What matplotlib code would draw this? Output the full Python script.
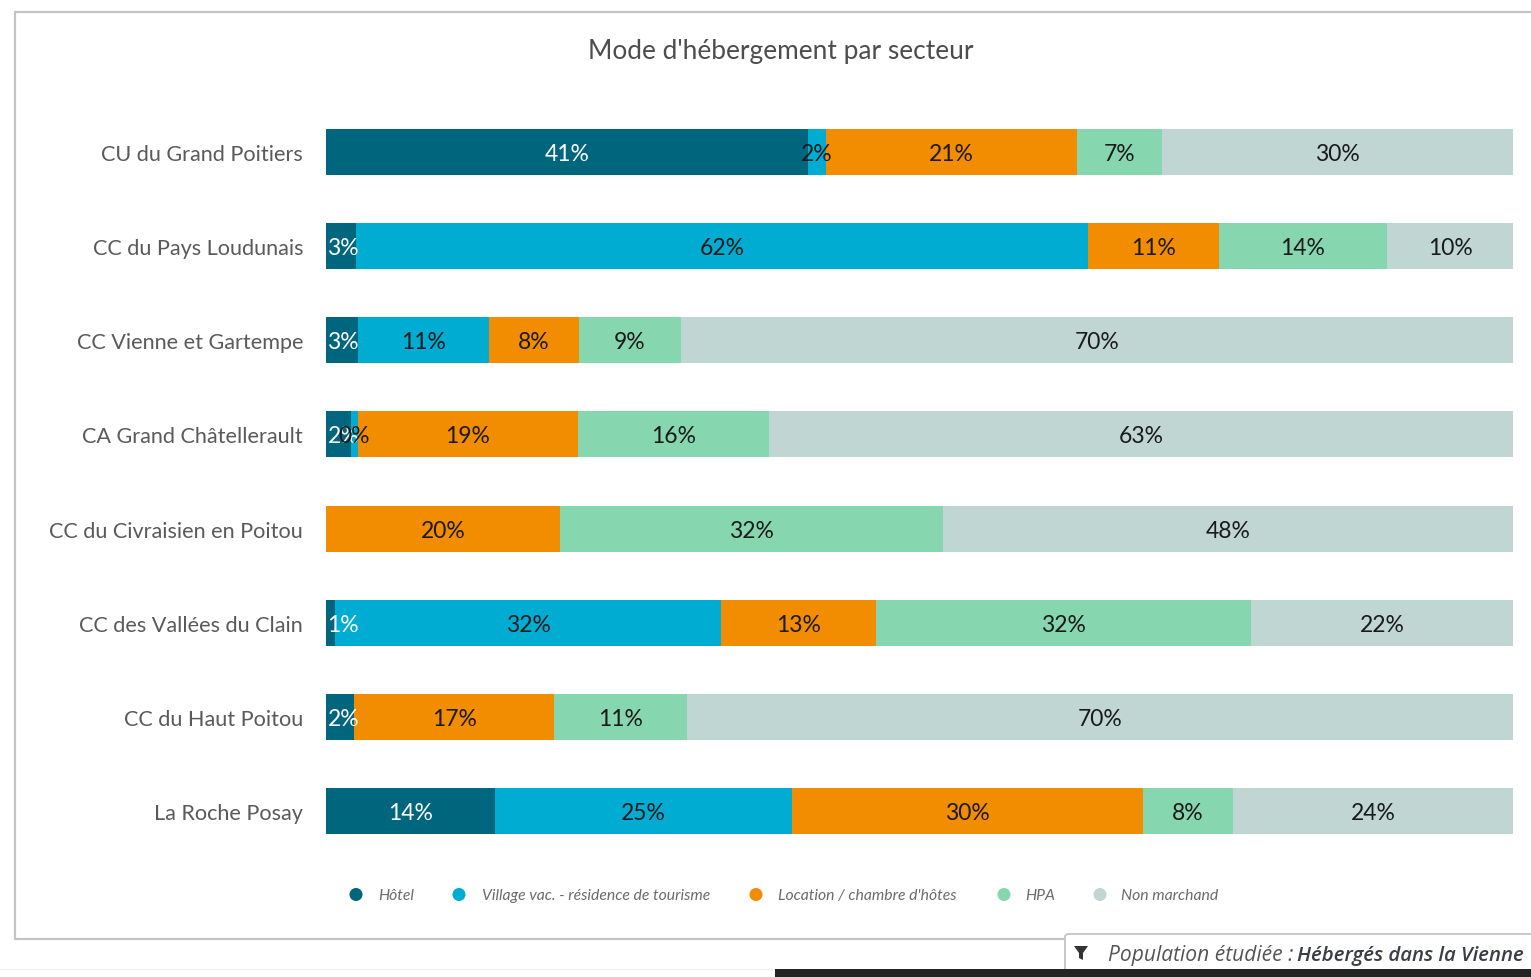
import matplotlib
matplotlib.use("Agg")
import matplotlib.pyplot as plt
from matplotlib.patches import Rectangle, Polygon, FancyBboxPatch

W, H = 1531, 978

sectors = ["CU du Grand Poitiers", "CC du Pays Loudunais", "CC Vienne et Gartempe",
           "CA Grand Châtellerault", "CC du Civraisien en Poitou", "CC des Vallées du Clain",
           "CC du Haut Poitou", "La Roche Posay"]

hotel = [40.6, 2.5, 2.7, 2.1, 0, 0.8, 2.4, 14.2]
village = [1.5, 61.7, 11.0, 0.6, 0, 32.5, 0, 25.1]
location = [21.2, 11.0, 7.6, 18.5, 19.7, 13.0, 16.8, 29.5]
hpa = [7.1, 14.2, 8.6, 16.1, 32.3, 31.6, 11.2, 7.6]
non_marchand = [29.6, 10.6, 70.1, 62.7, 48.0, 22.1, 69.6, 23.6]

# what the labels say (rounded in the source, they don't always add to 100)
hotel_lab = ["41%", "3%", "3%", "2%", "", "1%", "2%", "14%"]
village_lab = ["2%", "62%", "11%", "0%", "", "32%", "", "25%"]
location_lab = ["21%", "11%", "8%", "19%", "20%", "13%", "17%", "30%"]
hpa_lab = ["7%", "14%", "9%", "16%", "32%", "32%", "11%", "8%"]
non_marchand_lab = ["30%", "10%", "70%", "63%", "48%", "22%", "70%", "24%"]

series = [hotel, village, location, hpa, non_marchand]
series_lab = [hotel_lab, village_lab, location_lab, hpa_lab, non_marchand_lab]
names = ["Hôtel", "Village vac. - résidence de tourisme", "Location / chambre d'hôtes", "HPA", "Non marchand"]
colors = ["#00667d", "#00acd1", "#f28c00", "#86d7b0", "#c0d6d3"]
lab_colors = ["white", "#1a1a1a", "#1a1a1a", "#1a1a1a", "#1a1a1a"]

# legend positions, px
leg_dot_x = [356, 459, 756, 1004, 1100]
leg_txt_x = [378, 482, 778, 1025, 1121]

plt.rcParams["font.family"] = "Lato"
fig = plt.figure(figsize=(W / 100, H / 100), dpi=100, facecolor="white")

# background layer in pixel coords for the frame, title, legend, filter tag
bg = fig.add_axes([0, 0, 1, 1])
bg.set_xlim(0, W)
bg.set_ylim(H, 0)
bg.axis("off")

bg.add_patch(Rectangle((14.5, 12.5), W, 927, fc="white", ec="#c4c4c4", lw=1.6))
bg.plot([0, 775], [970, 970], color="#f0f0f0", lw=1)
bg.add_patch(Rectangle((775, 970), W - 775, 8, fc="#242424", ec="none", zorder=3))
bg.text(781, 51, "Mode d'hébergement par secteur", ha="center", va="center", fontsize=18.9, color="#4d4d4d")

bg.scatter(leg_dot_x, [895.5] * 5, s=88, c=colors, linewidths=0)
for x, name in zip(leg_txt_x, names):
    bg.text(x, 896, name, ha="left", va="center", fontsize=11.3, style="italic", color="#6b6b6b")

bg.add_patch(FancyBboxPatch((1068, 938), W, 40, boxstyle="round,pad=3,rounding_size=3",
                            fc="white", ec="#c8c8c8", lw=1.4, zorder=2))
bg.add_patch(Rectangle((1066, 970.5), W, 8, fc="#242424", ec="none", zorder=3))
bg.add_patch(Polygon([(1074, 947), (1088, 947), (1083, 954), (1083, 961), (1079, 959), (1079, 954)],
                     fc="#333333", ec="none", zorder=4))
bg.text(1108, 955.5, "Population étudiée :", ha="left", va="center", fontsize=15.1, style="italic",
        family="Open Sans", color="#555555", zorder=4)
bg.text(1524, 955.5, "Hébergés dans la Vienne", ha="right", va="center", fontsize=14.7, style="italic",
        weight="semibold", family="Open Sans", color="#3a3d42", zorder=4)

# bars, 0-100 spans 326 to 1513 px
ax = fig.add_axes([326 / W, 1 - 859 / H, 1187 / W, 753 / H])
ax.patch.set_alpha(0)
ypos = list(range(len(sectors)))
left = [0] * len(sectors)
for vals, labs, c, lc in zip(series, series_lab, colors, lab_colors):
    bars = ax.barh(ypos, vals, left=left, height=0.49, color=c, linewidth=0)
    for b, lab in zip(bars, labs):
        if lab:
            # narrow first segments: the label is pushed back inside the bar
            xc = max(b.get_x() + b.get_width() / 2, 1.45)
            ax.annotate(lab, (xc, b.get_y() + b.get_height() / 2), xytext=(0, -1.1),
                        textcoords="offset points", ha="center", va="center", fontsize=16.5, color=lc)
    left = [l + v for l, v in zip(left, vals)]

ax.set_xlim(0, 100)
ax.set_ylim(len(sectors) - 0.5, -0.5)
ax.set_xticks([])
ax.set_yticks(ypos)
ax.set_yticklabels(sectors, fontsize=15.6, color="#5a5a5a")
ax.tick_params(axis="y", length=0, pad=16.5)
for s in ax.spines.values():
    s.set_visible(False)

fig.savefig("out.png", dpi=100)
